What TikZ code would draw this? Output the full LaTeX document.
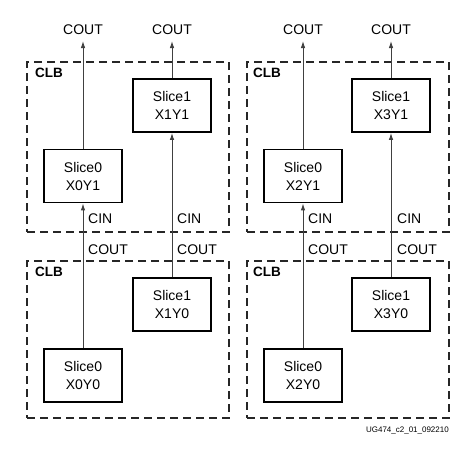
\documentclass[tikz,border=0pt]{standalone}
\usepackage{fontspec}
\setmainfont{Liberation Sans}
\usetikzlibrary{arrows.meta}
\begin{document}
\begin{tikzpicture}[x=1pt,y=-1pt,
  slicebox/.style={draw=black,line width=1.8pt,minimum width=78pt,minimum height=53pt,inner sep=0pt,align=center,font=\fontsize{14}{18}\selectfont,fill=white},
  clbbox/.style={draw=black!85,line width=1.5pt,dash pattern=on 8pt off 5pt,minimum width=202pt,inner sep=0pt},
  clblabel/.style={anchor=west,font=\fontsize{13.5}{16}\selectfont\bfseries,inner sep=0pt},
  sig/.style={font=\fontsize{14}{16}\selectfont,inner sep=0pt},
  wire/.style={draw=black!75,line width=0.9pt,-{Latex[length=7pt,width=4.5pt]}}]
\useasboundingbox (0,0) rectangle (476,448);
% CLB regions
\node[clbbox,minimum height=170pt] (clbA) at (128,147) {};
\node[clbbox,minimum height=157pt] (clbB) at (128,339.5) {};
\node[clbbox,minimum height=170pt] (clbC) at (348,147) {};
\node[clbbox,minimum height=157pt] (clbD) at (348,339.5) {};
\node[clblabel] (lA) at (35,73) {CLB};
\node[clblabel] (lB) at (35,272) {CLB};
\node[clblabel] (lC) at (253,73) {CLB};
\node[clblabel] (lD) at (253,272) {CLB};
% slices
\node[slicebox] (s0y1) at (83,176) {Slice0\\X0Y1};
\node[slicebox] (s1y1) at (172,105.5) {Slice1\\X1Y1};
\node[slicebox] (s0y0) at (83,375.5) {Slice0\\X0Y0};
\node[slicebox] (s1y0) at (172,304.5) {Slice1\\X1Y0};
\node[slicebox] (s2y1) at (303,176) {Slice0\\X2Y1};
\node[slicebox] (s3y1) at (391,105.5) {Slice1\\X3Y1};
\node[slicebox] (s2y0) at (303,375.5) {Slice0\\X2Y0};
\node[slicebox] (s3y0) at (391,304.5) {Slice1\\X3Y0};
% top COUT
\node[sig] (t0) at (83,30) {COUT};
\node[sig] (t1) at (172,30) {COUT};
\node[sig] (t2) at (303,30) {COUT};
\node[sig] (t3) at (391,30) {COUT};
\coordinate (e0) at (83,41);
\coordinate (e1) at (172,41);
\coordinate (e2) at (303,41);
\coordinate (e3) at (391,41);
% CIN / COUT labels between rows
\node[sig,anchor=west] (ci0) at (88,219) {CIN};
\node[sig,anchor=west] (ci1) at (177,219) {CIN};
\node[sig,anchor=west] (ci2) at (308,219) {CIN};
\node[sig,anchor=west] (ci3) at (397,219) {CIN};
\node[sig,anchor=west] (co0) at (88,250) {COUT};
\node[sig,anchor=west] (co1) at (177,250) {COUT};
\node[sig,anchor=west] (co2) at (308,250) {COUT};
\node[sig,anchor=west] (co3) at (397,250) {COUT};
% wires
\draw[wire] (s0y0.north) -- (s0y1.south);
\draw[wire] (s1y0.north) -- (s1y1.south);
\draw[wire] (s2y0.north) -- (s2y1.south);
\draw[wire] (s3y0.north) -- (s3y1.south);
\draw[wire] (s0y1.north) -- (e0);
\draw[wire] (s1y1.north) -- (e1);
\draw[wire] (s2y1.north) -- (e2);
\draw[wire] (s3y1.north) -- (e3);
% footer
\node[anchor=east,inner sep=0pt,font=\fontsize{8}{10}\selectfont] (foot) at (449,430) {UG474\_c2\_01\_092210};
\end{tikzpicture}
\end{document}
